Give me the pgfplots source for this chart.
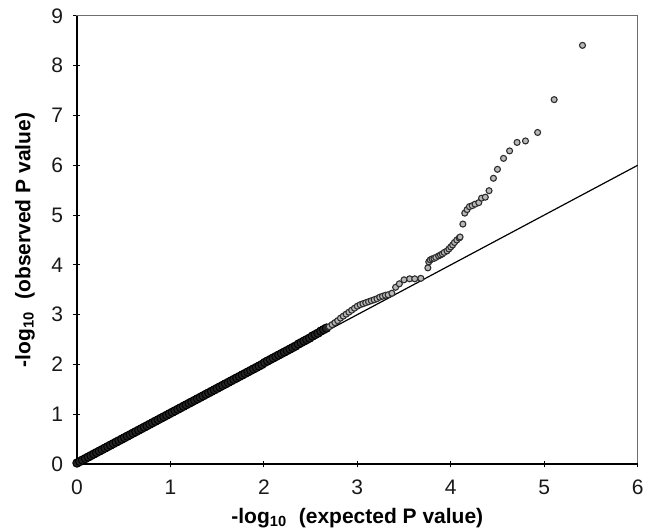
\documentclass[border=0pt]{standalone}
\usepackage{pgfplots}
\pgfplotsset{compat=1.18}
\usepackage{fontspec}
\setmainfont{Liberation Sans}
\definecolor{framegray}{HTML}{6E6E6E}
\definecolor{mkfill}{HTML}{B8B8B8}
\definecolor{mkedge}{HTML}{2E2E2E}
\begin{document}
\fontsize{10.5}{12}\selectfont
\begin{tikzpicture}
\useasboundingbox (-38.5pt,-32pt) rectangle (289.5pt,232pt);
\begin{axis}[
  scale only axis,
  width=280.3pt, height=224pt,
  xmin=0, xmax=6, ymin=0, ymax=9,
  xtick={0,1,2,3,4,5,6}, ytick={0,1,...,9},
  tick pos=left, tick align=center,
  major tick length=3.5pt,
  tick style={black, line width=0.5pt},
  axis line style={framegray, line width=0.5pt},
  /pgf/number format/assume math mode=true,
  ticklabel style={font=\fontsize{10.5}{12}\selectfont, text=black!90},
  xticklabel style={yshift=-2.5pt},
  yticklabel style={xshift=-1.5pt},
  xlabel={\textbf{-log\textsubscript{10}\ \ (expected P value)}},
  ylabel={\textbf{-log\textsubscript{10}\ \ (observed P value)}},
  xlabel style={at={(axis description cs:0.5,0)}, anchor=north, yshift=-21.8pt, inner sep=0pt, font=\fontsize{10.5}{12}\selectfont},
  ylabel style={at={(axis description cs:0,0.5)}, anchor=center, yshift=26pt, inner sep=0pt, font=\fontsize{10.5}{12}\selectfont},
  clip=false,
]
% dense band
\addplot[only marks, mark=*, mark size=2.1pt, mark options={draw=black, fill=black!85, line width=0.5pt}] coordinates {
(0,0.02)(0.03,0.05)(0.06,0.08)(0.09,0.11)(0.12,0.14)(0.15,0.17)(0.18,0.20)(0.21,0.23)(0.24,0.26)(0.27,0.29)
(0.30,0.32)(0.33,0.35)(0.36,0.38)(0.39,0.41)(0.42,0.44)(0.45,0.47)(0.48,0.50)(0.51,0.53)(0.54,0.56)(0.57,0.59)
(0.60,0.62)(0.63,0.65)(0.66,0.68)(0.69,0.71)(0.72,0.74)(0.75,0.77)(0.78,0.80)(0.81,0.83)(0.84,0.86)(0.87,0.89)
(0.90,0.92)(0.93,0.95)(0.96,0.98)(0.99,1.01)(1.02,1.04)(1.05,1.07)(1.08,1.10)(1.11,1.13)(1.14,1.16)(1.17,1.19)
(1.20,1.22)(1.23,1.25)(1.26,1.28)(1.29,1.31)(1.32,1.34)(1.35,1.37)(1.38,1.40)(1.41,1.43)(1.44,1.46)(1.47,1.49)
(1.50,1.52)(1.53,1.55)(1.56,1.58)(1.59,1.61)(1.62,1.64)(1.65,1.67)(1.68,1.70)(1.71,1.73)(1.74,1.76)(1.77,1.79)
(1.80,1.82)(1.83,1.85)(1.86,1.88)(1.89,1.91)(1.92,1.94)(1.95,1.97)(1.98,2.00)(2.01,2.04)(2.04,2.07)(2.07,2.10)
(2.10,2.13)(2.13,2.16)(2.16,2.19)(2.19,2.22)(2.22,2.25)(2.25,2.28)(2.28,2.31)(2.31,2.34)(2.34,2.37)(2.37,2.41)
(2.40,2.44)(2.43,2.47)(2.46,2.50)(2.49,2.53)(2.52,2.57)(2.55,2.60)(2.58,2.63)(2.61,2.67)(2.64,2.70)(2.67,2.73)
};
% sparse tail
\addplot[only marks, mark=*, mark size=1.5pt, mark options={draw=mkedge, fill=mkfill, line width=0.55pt}] coordinates {
(2.70,2.76)(2.73,2.80)(2.76,2.84)(2.79,2.88)(2.82,2.93)(2.85,2.97)(2.88,3.01)(2.91,3.05)(2.94,3.09)(2.97,3.13)
(3.00,3.17)(3.03,3.20)(3.06,3.22)(3.09,3.24)(3.12,3.26)(3.15,3.28)(3.18,3.30)(3.21,3.32)(3.24,3.35)(3.27,3.37)
(3.30,3.39)(3.33,3.40)(3.37,3.43)(3.41,3.55)(3.45,3.62)(3.50,3.70)(3.56,3.72)(3.615,3.72)(3.68,3.73)
(3.755,3.94)(3.765,4.06)(3.78,4.10)(3.80,4.12)(3.82,4.13)(3.84,4.15)(3.87,4.18)(3.89,4.20)(3.91,4.22)(3.93,4.25)
(3.96,4.28)(3.98,4.32)(4.00,4.36)(4.02,4.40)(4.04,4.45)(4.065,4.50)(4.09,4.54)(4.10,4.56)
(4.13,4.82)(4.15,5.04)(4.175,5.11)(4.20,5.17)(4.23,5.19)(4.26,5.22)(4.30,5.25)(4.33,5.34)(4.37,5.36)
(4.41,5.49)(4.457,5.74)(4.50,5.92)(4.565,6.14)(4.63,6.29)(4.71,6.46)(4.80,6.49)(4.93,6.66)(5.107,7.32)(5.41,8.41)
};
% expected line
\addplot[black, line width=0.6pt] coordinates {(0,0)(6,6)};
\draw[black, line width=0.6pt] (axis cs:0,9) -- (axis cs:0,0) -- (axis cs:6,0);
\end{axis}
\end{tikzpicture}
\end{document}
